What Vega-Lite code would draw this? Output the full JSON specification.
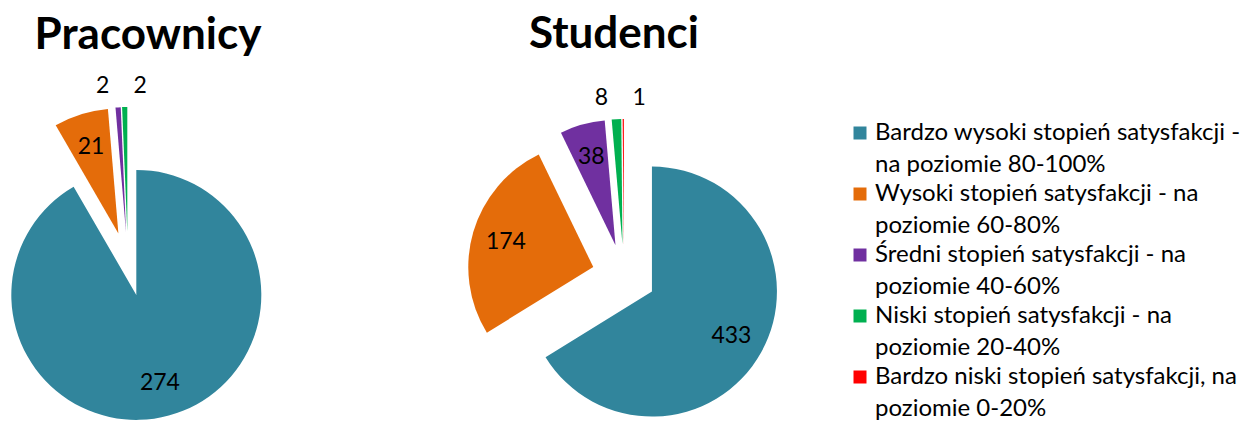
{
  "$schema": "https://vega.github.io/schema/vega-lite/v6.json",
  "padding": {"top": 13, "left": 0, "right": 0, "bottom": 0},
  "background": "white",
  "bounds": "flush",
  "spacing": 215,
  "config": {"view": {"stroke": null}, "font": "Lato"},
  "datasets": {
    "prac": [
      {"category": "Bardzo wysoki stopień satysfakcji - na poziomie 80-100%", "value": 274},
      {"category": "Wysoki stopień satysfakcji - na poziomie 60-80%", "value": 21},
      {"category": "Średni stopień satysfakcji - na poziomie 40-60%", "value": 2},
      {"category": "Niski stopień satysfakcji - na poziomie 20-40%", "value": 2}
    ],
    "stud": [
      {"category": "Bardzo wysoki stopień satysfakcji - na poziomie 80-100%", "value": 433},
      {"category": "Wysoki stopień satysfakcji - na poziomie 60-80%", "value": 174},
      {"category": "Średni stopień satysfakcji - na poziomie 40-60%", "value": 38},
      {"category": "Niski stopień satysfakcji - na poziomie 20-40%", "value": 8},
      {"category": "Bardzo niski stopień satysfakcji, na poziomie 0-20%", "value": 1}
    ]
  },
  "hconcat": [
    {
      "title": {"text": "Pracownicy", "fontSize": 44, "fontWeight": "bold", "font": "Lato", "color": "black", "anchor": "middle", "dx": 20, "offset": -18, "baseline": "alphabetic"},
      "width": 256,
      "height": 270,
      "data": {"name": "prac"},
      "transform": [
        {"joinaggregate": [{"op": "sum", "field": "value", "as": "total"}]},
        {"window": [{"op": "row_number", "as": "k"}]}
      ],
      "encoding": {
        "theta": {"field": "value", "type": "quantitative", "stack": true},
        "order": {"field": "k", "type": "quantitative"}
      },
      "layer": [
        {
          "mark": {"type": "arc", "outerRadius": 125, "strokeWidth": 0,
            "xOffset": {"expr": "32*sin(PI*(datum.value_start+datum.value_end)/datum.total)"},
            "yOffset": {"expr": "-32*cos(PI*(datum.value_start+datum.value_end)/datum.total)"}},
          "encoding": {
            "color": {"field": "category", "type": "nominal",
              "scale": {"domain": ["Bardzo wysoki stopień satysfakcji - na poziomie 80-100%", "Wysoki stopień satysfakcji - na poziomie 60-80%", "Średni stopień satysfakcji - na poziomie 40-60%", "Niski stopień satysfakcji - na poziomie 20-40%", "Bardzo niski stopień satysfakcji, na poziomie 0-20%"],
                "range": ["#31859C", "#E46C0A", "#7030A0", "#00B050", "#FF0000"]},
              "legend": {"orient": "none", "legendX": 848, "legendY": -8, "padding": 0, "title": null, "symbolType": "square", "symbolSize": 169, "symbolStrokeWidth": 0, "labelFont": "Lato", "labelFontSize": 24, "labelColor": "black", "labelLimit": 600, "labelOffset": 3, "rowPadding": 5, "labelBaseline": "alphabetic",
                "encoding": {"labels": {"lineHeight": {"value": 32}, "dy": {"value": 7}}},
                "labelExpr": "indexof(datum.label,'Bardzo wysoki')==0 ? ['Bardzo wysoki stopień satysfakcji -', 'na poziomie 80-100%'] : [substring(datum.label, 0, indexof(datum.label,' poziomie')), substring(datum.label, indexof(datum.label,' poziomie')+1)]"}}
          }
        },
        {
          "mark": {"type": "text", "font": "Lato", "fontSize": 23, "color": "black",
            "radius": {"expr": "datum.value/datum.total < 0.02 ? 146 : 91"},
            "xOffset": {"expr": "32*sin(PI*(datum.value_start+datum.value_end)/datum.total) + (datum.value/datum.total < 0.02 ? (datum.value_end == datum.total ? 16 : -14) : 0)"},
            "yOffset": {"expr": "-32*cos(PI*(datum.value_start+datum.value_end)/datum.total)"}},
          "encoding": {
            "text": {"field": "value", "type": "quantitative"},
            "detail": {"field": "category", "type": "nominal"}
          }
        }
      ]
    },
    {
      "title": {"text": "Studenci", "fontSize": 44, "fontWeight": "bold", "font": "Lato", "color": "black", "anchor": "middle", "dx": -10, "offset": -5, "baseline": "alphabetic"},
      "width": 306,
      "height": 294,
      "data": {"name": "stud"},
      "transform": [
        {"joinaggregate": [{"op": "sum", "field": "value", "as": "total"}]},
        {"window": [{"op": "row_number", "as": "k"}]}
      ],
      "encoding": {
        "theta": {"field": "value", "type": "quantitative", "stack": true},
        "order": {"field": "k", "type": "quantitative"}
      },
      "layer": [
        {
          "mark": {"type": "arc", "outerRadius": 125, "strokeWidth": 0,
            "xOffset": {"expr": "32*sin(PI*(datum.value_start+datum.value_end)/datum.total)"},
            "yOffset": {"expr": "-32*cos(PI*(datum.value_start+datum.value_end)/datum.total)"}},
          "encoding": {
            "color": {"field": "category", "type": "nominal",
              "scale": {"domain": ["Bardzo wysoki stopień satysfakcji - na poziomie 80-100%", "Wysoki stopień satysfakcji - na poziomie 60-80%", "Średni stopień satysfakcji - na poziomie 40-60%", "Niski stopień satysfakcji - na poziomie 20-40%", "Bardzo niski stopień satysfakcji, na poziomie 0-20%"],
                "range": ["#31859C", "#E46C0A", "#7030A0", "#00B050", "#FF0000"]},
              "legend": {"orient": "none", "legendX": 848, "legendY": -8, "padding": 0, "title": null, "symbolType": "square", "symbolSize": 169, "symbolStrokeWidth": 0, "labelFont": "Lato", "labelFontSize": 24, "labelColor": "black", "labelLimit": 600, "labelOffset": 3, "rowPadding": 5, "labelBaseline": "alphabetic",
                "encoding": {"labels": {"lineHeight": {"value": 32}, "dy": {"value": 7}}},
                "labelExpr": "indexof(datum.label,'Bardzo wysoki')==0 ? ['Bardzo wysoki stopień satysfakcji -', 'na poziomie 80-100%'] : [substring(datum.label, 0, indexof(datum.label,' poziomie')), substring(datum.label, indexof(datum.label,' poziomie')+1)]"}}
          }
        },
        {
          "mark": {"type": "text", "font": "Lato", "fontSize": 23, "color": "black",
            "radius": {"expr": "datum.value/datum.total < 0.02 ? 146 : 91"},
            "xOffset": {"expr": "32*sin(PI*(datum.value_start+datum.value_end)/datum.total) + (datum.value/datum.total < 0.02 ? (datum.value_end == datum.total ? 16 : -14) : 0)"},
            "yOffset": {"expr": "-32*cos(PI*(datum.value_start+datum.value_end)/datum.total)"}},
          "encoding": {
            "text": {"field": "value", "type": "quantitative"},
            "detail": {"field": "category", "type": "nominal"}
          }
        }
      ]
    }
  ]
}
